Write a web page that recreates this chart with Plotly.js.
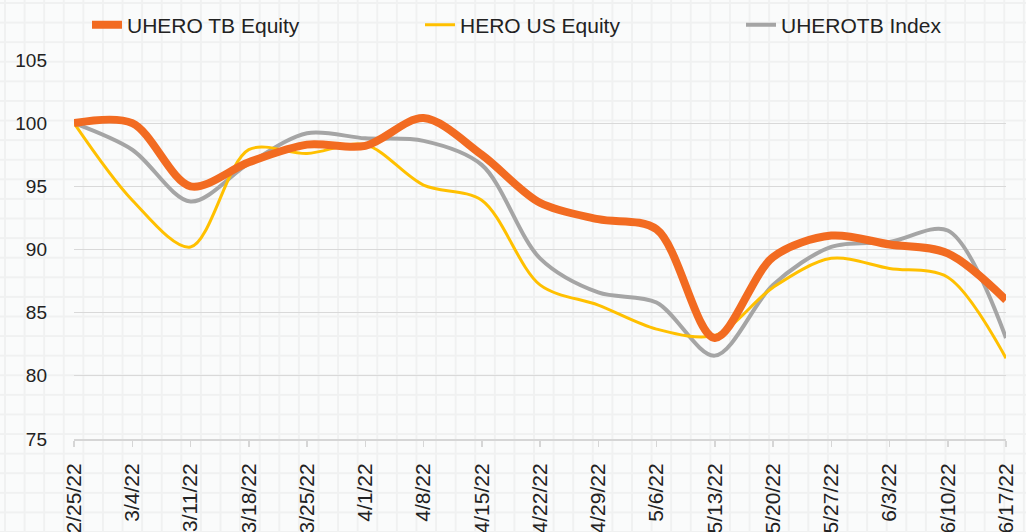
<!DOCTYPE html>
<html>
<head>
<meta charset="utf-8">
<script src="https://cdn.plot.ly/plotly-3.0.1.min.js"></script>
<style>
html,body{margin:0;padding:0;}
body{background-color:#fafbfb;
  background-image:linear-gradient(to right, #f0f1f1 2px, transparent 2px),
                   linear-gradient(to bottom, #f0f1f1 2px, transparent 2px);
  background-size:19.6px 19.6px;background-position:4px 2px;}
#chart{width:1026px;height:532px;}
</style>
</head>
<body>
<div id="chart"></div>
<script>
const dates = ["2/25/22","3/4/22","3/11/22","3/18/22","3/25/22","4/1/22","4/8/22","4/15/22","4/22/22","4/29/22","5/6/22","5/13/22","5/20/22","5/27/22","6/3/22","6/10/22","6/17/22"];
const uheroTB = [100.0,100.0,95.0,96.9,98.3,98.2,100.4,97.5,93.7,92.4,91.6,83.0,89.4,91.1,90.4,89.7,86.0];
const heroUS  = [100.0,93.9,90.2,97.9,97.6,98.3,95.1,93.9,87.2,85.6,83.7,83.2,87.0,89.3,88.5,87.8,81.4];
const uherotbIndex = [100.0,97.9,93.8,96.8,99.2,98.8,98.6,96.7,89.3,86.6,85.8,81.6,87.2,90.2,90.6,91.5,83.0];
const names = ["UHERO TB Equity","HERO US Equity","UHEROTB Index"];
const colors = ["#F26B21","#FFC000","#A5A5A5"];

const traces = [
  {x: dates, y: uheroTB, name: names[0], type: "scatter", mode: "lines",
   line: {color: colors[0], width: 8, shape: "spline", smoothing: 0.9}, legend: "legend"},
  {x: dates, y: heroUS, name: names[1], type: "scatter", mode: "lines",
   line: {color: colors[1], width: 3, shape: "spline", smoothing: 0.9}, legend: "legend2"},
  {x: dates, y: uherotbIndex, name: names[2], type: "scatter", mode: "lines",
   line: {color: colors[2], width: 4, shape: "spline", smoothing: 0.9}, legend: "legend3"}
];
// draw the index first so orange is on top
const order = [traces[2], traces[1], traces[0]];

const legFont = {family: "Liberation Sans, Arial, sans-serif", size: 21, color: "#222"};
const legBase = {orientation: "h", yanchor: "middle", y: 1.092, xanchor: "left",
  bgcolor: "rgba(0,0,0,0)", font: legFont, itemwidth: 30, tracegroupgap: 0};

const layout = {
  width: 1026, height: 532,
  paper_bgcolor: "rgba(0,0,0,0)", plot_bgcolor: "rgba(0,0,0,0)",
  margin: {l: 74, r: 20, t: 60, b: 93, autoexpand: false},
  showlegend: true,
  legend: Object.assign({}, legBase, {x: (87-74)/932}),
  legend2: Object.assign({}, legBase, {x: (420-74)/932}),
  legend3: Object.assign({}, legBase, {x: (741-74)/932}),
  xaxis: {type: "category", range: [0, 16], tickangle: -90,
    tickfont: {family: "Liberation Sans, Arial, sans-serif", size: 21, color: "#222"},
    showgrid: false, showline: true, linecolor: "#d6d6d6", linewidth: 2,
    ticks: "outside", ticklen: 6, tickcolor: "#d6d6d6", tickwidth: 1.5,
    ticklabelstandoff: 8, automargin: false, zeroline: false},
  yaxis: {range: [75, 105], tickvals: [75,80,85,90,95,100,105],
    tickfont: {family: "Liberation Sans, Arial, sans-serif", size: 19, color: "#222"},
    showgrid: true, gridcolor: "#d9d9d9", gridwidth: 1, zeroline: false, showline: false,
    ticks: "", ticklabelstandoff: 26, automargin: false}
};

Plotly.newPlot("chart", order, layout, {displayModeBar: false, staticPlot: true});
</script>
</body>
</html>
